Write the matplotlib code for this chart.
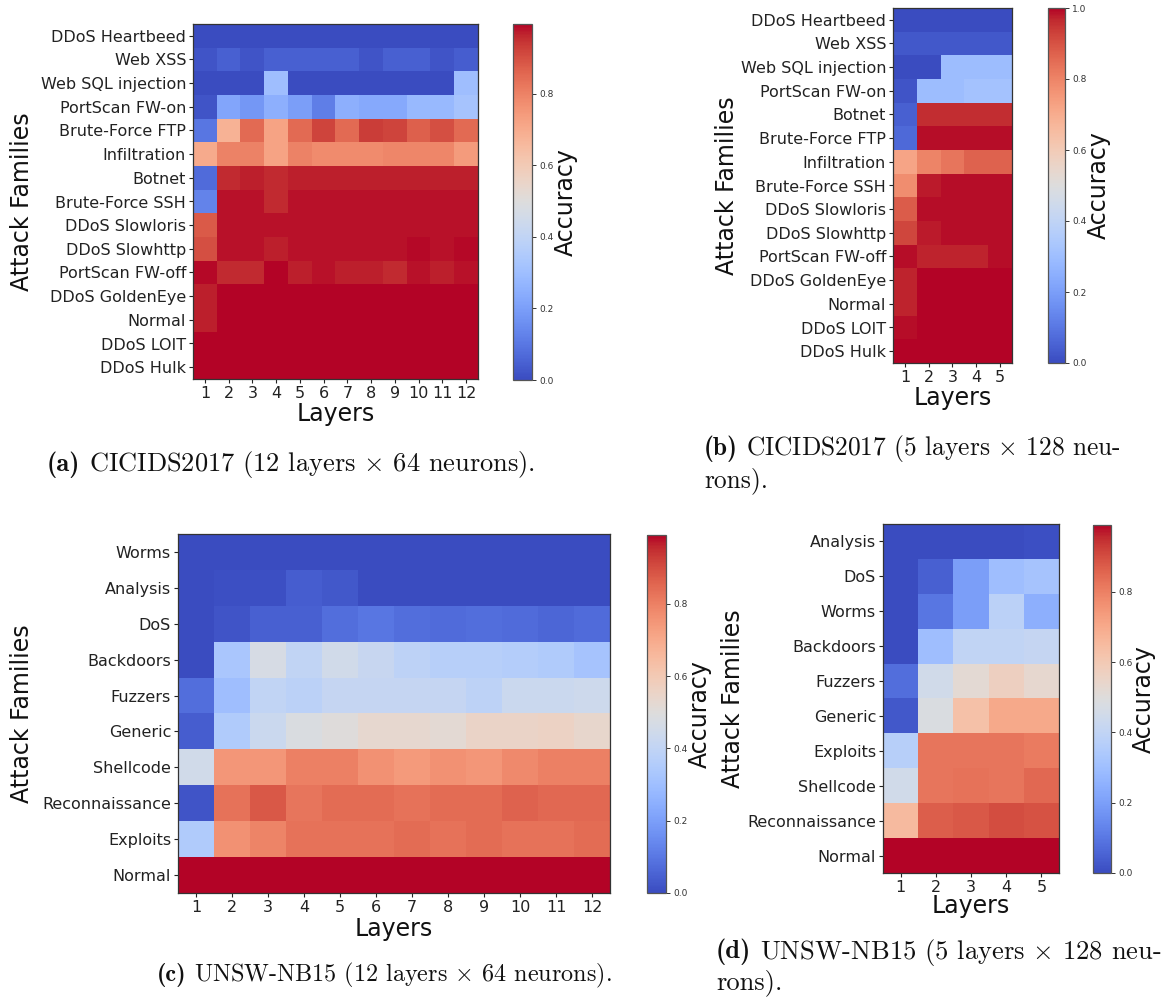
import numpy as np
import matplotlib
matplotlib.use("Agg")
import matplotlib.pyplot as plt

plt.rcParams["mathtext.fontset"] = "cm"

W, H = 1170, 999

# ---------------- CICIDS2017, 12 layers x 64 neurons ----------------
cic12_families = ["DDoS Heartbeed", "Web XSS", "Web SQL injection", "PortScan FW-on",
                  "Brute-Force FTP", "Infiltration", "Botnet", "Brute-Force SSH",
                  "DDoS Slowloris", "DDoS Slowhttp", "PortScan FW-off", "DDoS GoldenEye",
                  "Normal", "DDoS LOIT", "DDoS Hulk"]
cic12_layers = [str(i) for i in range(1, 13)]
cic12_acc = [
    [0.00, 0.00, 0.00, 0.00, 0.00, 0.00, 0.00, 0.00, 0.00, 0.00, 0.00, 0.00],
    [0.02, 0.05, 0.02, 0.05, 0.05, 0.05, 0.05, 0.02, 0.05, 0.05, 0.02, 0.04],
    [0.00, 0.00, 0.00, 0.30, 0.00, 0.00, 0.00, 0.00, 0.00, 0.00, 0.00, 0.30],
    [0.02, 0.22, 0.18, 0.25, 0.20, 0.12, 0.25, 0.23, 0.23, 0.28, 0.28, 0.32],
    [0.10, 0.68, 0.85, 0.72, 0.85, 0.92, 0.85, 0.93, 0.92, 0.87, 0.90, 0.85],
    [0.70, 0.80, 0.80, 0.72, 0.80, 0.78, 0.78, 0.78, 0.79, 0.79, 0.79, 0.74],
    [0.07, 0.96, 0.97, 0.96, 0.97, 0.97, 0.97, 0.97, 0.97, 0.97, 0.97, 0.97],
    [0.13, 0.98, 0.98, 0.96, 0.98, 0.98, 0.98, 0.98, 0.98, 0.98, 0.98, 0.98],
    [0.88, 0.98, 0.98, 0.98, 0.98, 0.98, 0.98, 0.98, 0.98, 0.98, 0.98, 0.98],
    [0.90, 0.98, 0.98, 0.97, 0.98, 0.98, 0.98, 0.98, 0.98, 0.99, 0.98, 0.99],
    [0.99, 0.96, 0.96, 0.995, 0.97, 0.98, 0.97, 0.97, 0.96, 0.98, 0.97, 0.98],
    [0.97, 0.995, 0.995, 0.995, 0.995, 0.995, 0.995, 0.995, 0.995, 0.995, 0.995, 0.995],
    [0.97, 0.995, 0.995, 0.995, 0.995, 0.995, 0.995, 0.995, 0.995, 0.995, 0.995, 0.995],
    [0.995, 0.995, 0.995, 0.995, 0.995, 0.995, 0.995, 0.995, 0.995, 0.995, 0.995, 0.995],
    [0.995, 0.995, 0.995, 0.995, 0.995, 0.995, 0.995, 0.995, 0.995, 0.995, 0.995, 0.995],
]

# ---------------- CICIDS2017, 5 layers x 128 neurons ----------------
cic5_families = ["DDoS Heartbeed", "Web XSS", "Web SQL injection", "PortScan FW-on",
                 "Botnet", "Brute-Force FTP", "Infiltration", "Brute-Force SSH",
                 "DDoS Slowloris", "DDoS Slowhttp", "PortScan FW-off", "DDoS GoldenEye",
                 "Normal", "DDoS LOIT", "DDoS Hulk"]
cic5_layers = [str(i) for i in range(1, 6)]
cic5_acc = [
    [0.00, 0.00, 0.00, 0.00, 0.00],
    [0.03, 0.03, 0.03, 0.03, 0.03],
    [0.00, 0.00, 0.30, 0.30, 0.30],
    [0.02, 0.30, 0.30, 0.32, 0.32],
    [0.05, 0.96, 0.96, 0.96, 0.96],
    [0.07, 0.99, 0.99, 0.99, 0.99],
    [0.72, 0.80, 0.83, 0.87, 0.87],
    [0.78, 0.98, 0.99, 0.99, 0.99],
    [0.88, 0.99, 0.99, 0.99, 0.99],
    [0.92, 0.98, 0.99, 0.99, 0.99],
    [0.99, 0.97, 0.97, 0.97, 0.99],
    [0.97, 1.00, 1.00, 1.00, 1.00],
    [0.97, 1.00, 1.00, 1.00, 1.00],
    [0.99, 1.00, 1.00, 1.00, 1.00],
    [1.00, 1.00, 1.00, 1.00, 1.00],
]

# ---------------- UNSW-NB15, 12 layers x 64 neurons ----------------
unsw12_families = ["Worms", "Analysis", "DoS", "Backdoors", "Fuzzers", "Generic",
                   "Shellcode", "Reconnaissance", "Exploits", "Normal"]
unsw12_layers = [str(i) for i in range(1, 13)]
unsw12_acc = [
    [0.00, 0.00, 0.00, 0.00, 0.00, 0.00, 0.00, 0.00, 0.00, 0.00, 0.00, 0.00],
    [0.00, 0.01, 0.01, 0.04, 0.03, 0.00, 0.00, 0.00, 0.00, 0.00, 0.00, 0.00],
    [0.00, 0.02, 0.05, 0.05, 0.08, 0.10, 0.08, 0.07, 0.08, 0.07, 0.06, 0.07],
    [0.00, 0.33, 0.47, 0.40, 0.45, 0.42, 0.39, 0.37, 0.37, 0.36, 0.35, 0.32],
    [0.08, 0.30, 0.40, 0.38, 0.41, 0.41, 0.41, 0.41, 0.39, 0.43, 0.43, 0.44],
    [0.04, 0.35, 0.43, 0.48, 0.50, 0.53, 0.53, 0.52, 0.55, 0.55, 0.56, 0.54],
    [0.45, 0.75, 0.75, 0.80, 0.80, 0.76, 0.74, 0.76, 0.75, 0.78, 0.80, 0.80],
    [0.02, 0.83, 0.88, 0.82, 0.84, 0.84, 0.83, 0.84, 0.84, 0.86, 0.85, 0.85],
    [0.35, 0.76, 0.79, 0.83, 0.83, 0.83, 0.84, 0.83, 0.84, 0.83, 0.83, 0.84],
    [0.99, 0.99, 0.99, 0.99, 0.99, 0.99, 0.99, 0.99, 0.99, 0.99, 0.99, 0.99],
]

# ---------------- UNSW-NB15, 5 layers x 128 neurons ----------------
unsw5_families = ["Analysis", "DoS", "Worms", "Backdoors", "Fuzzers", "Generic",
                  "Exploits", "Shellcode", "Reconnaissance", "Normal"]
unsw5_layers = [str(i) for i in range(1, 6)]
unsw5_acc = [
    [0.00, 0.00, 0.00, 0.00, 0.01],
    [0.00, 0.05, 0.20, 0.30, 0.32],
    [0.00, 0.10, 0.20, 0.38, 0.25],
    [0.00, 0.30, 0.40, 0.40, 0.41],
    [0.08, 0.45, 0.52, 0.57, 0.53],
    [0.03, 0.48, 0.63, 0.70, 0.70],
    [0.37, 0.82, 0.82, 0.82, 0.81],
    [0.45, 0.82, 0.83, 0.82, 0.85],
    [0.65, 0.87, 0.88, 0.90, 0.89],
    [0.99, 0.99, 0.99, 0.99, 0.99],
]

# sub-figure captions: bold tag, first line, optional continuation line
cap_tags = ["(a)", "(b)", "(c)", "(d)"]
cap_line1 = [
    r"CICIDS2017 (12 layers $\times$ 64 neurons).",
    r"CICIDS2017 (5 layers $\times$ 128 neu-",
    r"UNSW-NB15 (12 layers $\times$ 64 neurons).",
    r"UNSW-NB15 (5 layers $\times$ 128 neu-",
]
cap_line2 = ["", "rons).", "", "rons)."]

fig = plt.figure(figsize=(W / 100, H / 100), dpi=100)


def box(x0, y0, x1, y1):
    """Pixel box (top-left origin) -> figure fraction rect."""
    return [x0 / W, 1 - y1 / H, (x1 - x0) / W, (y1 - y0) / H]


def panel(values, families, layers, ax_px, cb_px, ylab_x, xlab_y, cblab_x):
    data = np.array(values, dtype=float)
    ax = fig.add_axes(box(*ax_px))
    im = ax.imshow(data, cmap="coolwarm", vmin=0.0, vmax=data.max(),
                   aspect="auto", interpolation="nearest")
    ax.set_xticks(range(len(layers)))
    ax.set_xticklabels(layers, fontsize=11.5)
    ax.set_yticks(range(len(families)))
    ax.set_yticklabels(families, fontsize=11.5)
    ax.tick_params(length=3, width=0.8, pad=2, colors="#222222")
    for s in ax.spines.values():
        s.set_color("#333333")
        s.set_linewidth(0.9)

    # axis labels placed at pixel positions
    x0, y0, x1, y1 = ax_px
    ax.set_ylabel("Attack Families", fontsize=17, va="center", color="#111111")
    ax.yaxis.set_label_coords((ylab_x - x0) / (x1 - x0), 0.5)
    ax.set_xlabel("Layers", fontsize=17, va="center", color="#111111")
    ax.xaxis.set_label_coords(0.5, (y1 - xlab_y) / (y1 - y0))

    cax = fig.add_axes(box(*cb_px))
    ticks = [t for t in np.arange(0, 1.01, 0.2) if t <= data.max() + 1e-9]
    cb = fig.colorbar(im, cax=cax, ticks=ticks)
    cb.ax.tick_params(labelsize=6.5, length=3, width=0.7, pad=2, colors="#333333")
    cb.outline.set_edgecolor("#555555")
    cb.outline.set_linewidth(0.9)
    cb.set_label("Accuracy", fontsize=17, va="center", color="#111111")
    cx0, cy0, cx1, cy1 = cb_px
    cb.ax.yaxis.set_label_coords((cblab_x - cx0) / (cx1 - cx0), 0.5)
    return ax


panel(cic12_acc, cic12_families, cic12_layers,
      (193, 24, 478, 379), (513, 24, 532, 380), 22, 414, 566)
panel(cic5_acc, cic5_families, cic5_layers,
      (893, 8, 1012, 363), (1048, 8, 1065, 363), 727, 398, 1099)
panel(unsw12_acc, unsw12_families, unsw12_layers,
      (178, 534, 610, 893), (647, 535, 666, 893), 22, 929, 700)
panel(unsw5_acc, unsw5_families, unsw5_layers,
      (883, 524, 1059, 873), (1093, 525, 1111, 873), 733, 906, 1144)

# caption placement: left x, first-line centre y, second-line centre y, size
cap_x = [47, 704, 157, 716]
cap_y1 = [465, 449, 975, 952]
cap_y2 = [None, 481, None, 983]
cap_size = [19.0, 18.3, 17.4, 19.1]

renderer = fig.canvas.get_renderer()
for tag, l1, l2, px, py1, py2, fs in zip(cap_tags, cap_line1, cap_line2,
                                         cap_x, cap_y1, cap_y2, cap_size):
    t = fig.text(px / W, 1 - py1 / H, tag, fontsize=fs, family="cmb10",
                 ha="left", va="center", color="#111111")
    bb = t.get_window_extent(renderer)
    gap = fs * 0.45
    fig.text((bb.x1 + gap) / W, 1 - py1 / H, l1, fontsize=fs, family="cmr10",
             ha="left", va="center", color="#111111")
    if l2:
        fig.text(px / W, 1 - py2 / H, l2, fontsize=fs, family="cmr10",
                 ha="left", va="center", color="#111111")

fig.savefig("out.png", dpi=100)
